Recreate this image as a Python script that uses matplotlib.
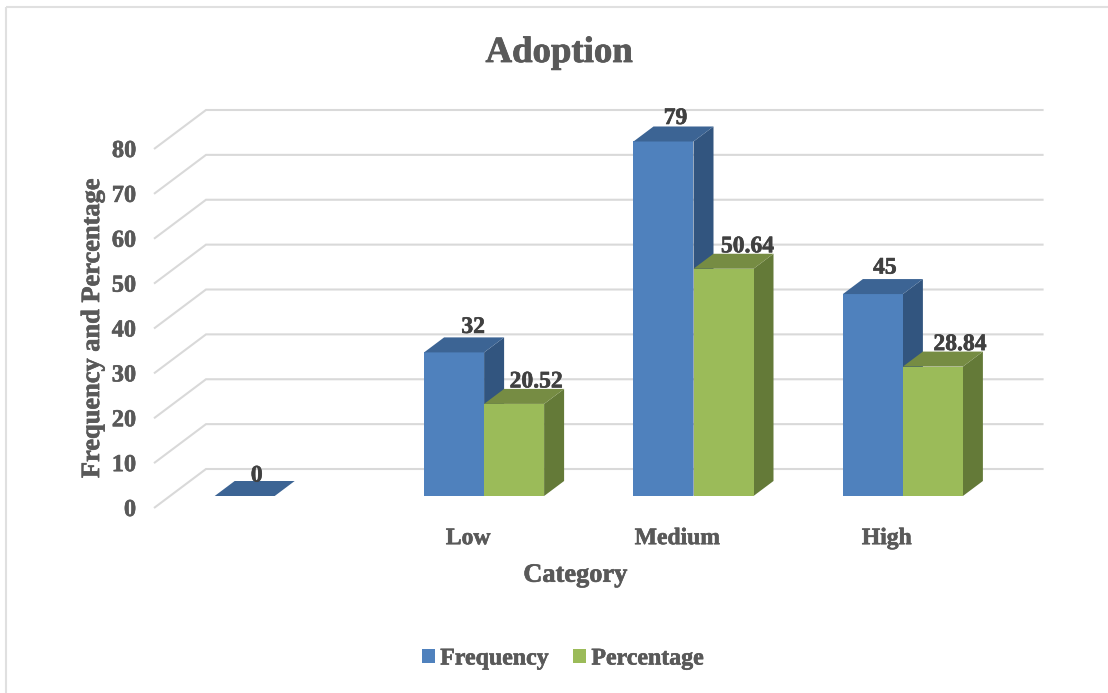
import matplotlib
matplotlib.use("Agg")
import matplotlib.pyplot as plt
import matplotlib.patheffects as pe
from matplotlib.lines import Line2D
from matplotlib.patches import Patch, Polygon, Rectangle

# Survey results by adoption level
categories = ["", "Low", "Medium", "High"]
frequency = [0, 32, 79, 45]
percentage = [None, 20.52, 50.64, 28.84]
freq_labels = ["0", "32", "79", "45"]
pct_labels = [None, "20.52", "50.64", "28.84"]
y_ticks = list(range(0, 90, 10))

# Nudges of the value labels from their bars, in pixels
freq_label_dx = [12, 19, 12, 12]
freq_label_rise = [20, 25, 23, 26]
pct_label_dx = [0, 22, 24, 27]

FRONT_BLUE, TOP_BLUE, SIDE_BLUE = "#4F81BD", "#3C6494", "#32557F"
FRONT_GREEN, TOP_GREEN, SIDE_GREEN = "#9BBB59", "#768C43", "#647A38"
GRID = "#D9D9D9"
TICK_TEXT = "#595959"
VALUE_TEXT = "#404040"

W, H = 1108, 693
plt.rcParams["font.family"] = ["Liberation Serif", "DejaVu Serif"]
plt.rcParams["font.weight"] = "bold"

fig = plt.figure(figsize=(W / 100, H / 100), dpi=100, facecolor="white")

# Front plane of the oblique 3-D box, placed in pixel terms
left, right, top, bottom = 154, 991.6, 149, 508
ax = fig.add_axes([left / W, 1 - bottom / H, (right - left) / W, (bottom - top) / H])
ax.set_xlim(-0.5, 3.5)
ax.set_ylim(0, 80)
ax.patch.set_alpha(0)
for spine in ax.spines.values():
    spine.set_visible(False)

px_x = 4 / (right - left)     # data units per pixel, horizontal
px_y = 80 / (bottom - top)    # data units per pixel, vertical

# Wall depth, offset of the bar row from the front plane, and bar depth
wall_dx, wall_dy = 52 * px_x, 39 * px_y
row_dx, row_dy = 16 * px_x, 12 * px_y
bar_dx, bar_dy = 20 * px_x, 15 * px_y
bar_w = 60 * px_x


def thicken(text, color, width=0.45):
    """Slight outline that thickens the bold serif glyphs."""
    text.set_path_effects([pe.withStroke(linewidth=width, foreground=color)])
    return text


# Gridlines run along the side wall, then across the back wall
for v in y_ticks:
    ax.plot([-0.5, -0.5 + wall_dx, 3.5 + wall_dx],
            [v, v + wall_dy, v + wall_dy],
            color=GRID, lw=1.5, clip_on=False, zorder=1,
            solid_joinstyle="miter", solid_capstyle="butt")


def draw_bar(x0, value, front, top_col, side_col, z):
    """Draw one oblique bar whose front face starts at x0 in the bar row."""
    xl, xr = x0 + row_dx, x0 + row_dx + bar_w
    base, head = row_dy, row_dy + value
    if value > 0:
        ax.add_patch(Polygon([(xr, base), (xr + bar_dx, base + bar_dy),
                              (xr + bar_dx, head + bar_dy), (xr, head)],
                             closed=True, fc=side_col, ec="none", zorder=z, clip_on=False))
        ax.add_patch(Rectangle((xl, base), bar_w, value, fc=front, ec="none",
                               zorder=z, clip_on=False))
    ax.add_patch(Polygon([(xl, head), (xl + bar_dx, head + bar_dy),
                          (xr + bar_dx, head + bar_dy), (xr, head)],
                         closed=True, fc=top_col, ec="none", zorder=z, clip_on=False))


def value_label(x, value, text, dx, rise):
    label = ax.text(x + dx * px_x, value + row_dy + rise * px_y, text, ha="center",
                    va="center", fontsize=17, color=VALUE_TEXT, zorder=6)
    thicken(label, VALUE_TEXT)


for i in range(len(categories)):
    f, p = frequency[i], percentage[i]
    draw_bar(i - bar_w, f, FRONT_BLUE, TOP_BLUE, SIDE_BLUE, 3)
    value_label(i + row_dx - bar_w / 2, f, freq_labels[i], freq_label_dx[i], freq_label_rise[i])
    if p is not None:
        draw_bar(i, p, FRONT_GREEN, TOP_GREEN, SIDE_GREEN, 4)
        value_label(i + row_dx + bar_w / 2, p, pct_labels[i], pct_label_dx[i], 22)

ax.set_xticks(range(len(categories)), categories)
ax.set_yticks(y_ticks)
ax.tick_params(axis="both", length=0, labelsize=17.5, labelcolor=TICK_TEXT)
ax.tick_params(axis="x", labelsize=17, pad=14.5)
ax.tick_params(axis="y", pad=13)
for tick_label in ax.get_xticklabels() + ax.get_yticklabels():
    thicken(tick_label, TICK_TEXT)

xlab = ax.set_xlabel("Category", fontsize=19, color=TICK_TEXT, fontweight="bold",
                     labelpad=10.5, x=0.5 + 2.5 / (right - left))
ylab = ax.set_ylabel("Frequency and Percentage", fontsize=19, color=TICK_TEXT,
                     fontweight="bold", labelpad=5.5)
thicken(xlab, TICK_TEXT)
thicken(ylab, TICK_TEXT)

title = fig.text(559 / W, 1 - 52.5 / H, "Adoption", ha="center", va="center",
                 fontsize=26.5, color=TICK_TEXT, fontweight="bold")
thicken(title, TICK_TEXT, 0.6)

handles = [Patch(fc=FRONT_BLUE, ec="none", label="Frequency"),
           Patch(fc=FRONT_GREEN, ec="none", label="Percentage")]
legend = fig.legend(handles=handles, loc="center", bbox_to_anchor=(563 / W, 1 - 659 / H), ncol=2,
                    frameon=False, fontsize=17.2, labelcolor=TICK_TEXT,
                    handlelength=0.55, handleheight=0.55, handletextpad=0.22, columnspacing=1.0)
for legend_text in legend.get_texts():
    thicken(legend_text, TICK_TEXT)

# Frame lines along the top and left edges of the chart area
for xs, ys in [((6, 6), (H, 6.5)), ((6, W), (6.5, 6.5))]:
    fig.add_artist(Line2D([x / W for x in xs], [1 - y / H for y in ys],
                          transform=fig.transFigure, color="#E0E0E0", lw=1.5,
                          solid_capstyle="butt"))

fig.savefig("out.png", dpi=100, facecolor="white")
